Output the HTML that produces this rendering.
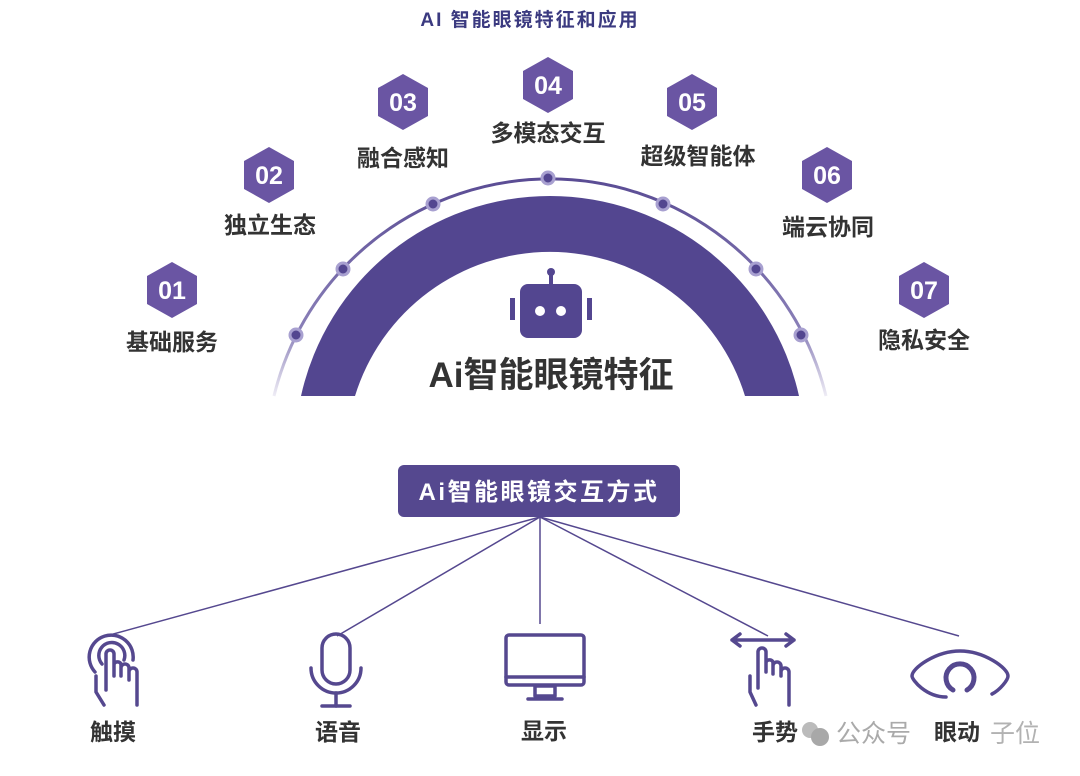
<!DOCTYPE html>
<html><head><meta charset="utf-8"><style>
html,body{margin:0;padding:0;background:#fff;}
svg{display:block;}
text{font-family:"Liberation Sans","Noto Sans CJK SC",sans-serif;}
</style></head><body>
<svg width="1080" height="776" viewBox="0 0 1080 776" xmlns="http://www.w3.org/2000/svg">
<defs>
<linearGradient id="g1" x1="0" y1="0" x2="0" y2="1">
<stop offset="0" stop-color="#5a4c94"/><stop offset="0.7" stop-color="#8a80b8"/><stop offset="1" stop-color="#eeecf5"/>
</linearGradient>
</defs>
<text x="530" y="26" text-anchor="middle" font-size="19" letter-spacing="2" font-weight="bold" fill="#3b3a80">AI 智能眼镜特征和应用</text>
<!-- thin arc -->
<path d="M274 396 A284 284 0 0 1 826 396" fill="none" stroke="url(#g1)" stroke-width="3"/>
<!-- thick band -->
<path d="M301 396 A255 255 0 0 1 799 396 L745 396 A204 204 0 0 0 355 396 Z" fill="#534690"/>
<g fill="#534690" stroke="#a8a0d0" stroke-width="3">
<circle cx="296" cy="335" r="6"/><circle cx="343" cy="269" r="6"/><circle cx="433" cy="204" r="6"/>
<circle cx="548" cy="178" r="6"/><circle cx="663" cy="204" r="6"/><circle cx="756" cy="269" r="6"/><circle cx="801" cy="335" r="6"/>
</g>
<!-- robot -->
<g fill="#534690">
<circle cx="551" cy="272" r="4"/><rect x="549" y="272" width="4" height="12"/>
<rect x="520" y="284" width="62" height="54" rx="8"/>
<rect x="510" y="298" width="5" height="22"/><rect x="587" y="298" width="5" height="22"/>
</g>
<circle cx="540" cy="311" r="5" fill="#fff"/><circle cx="561" cy="311" r="5" fill="#fff"/>
<text x="551" y="387" text-anchor="middle" font-size="35" font-weight="bold" fill="#333">Ai智能眼镜特征</text>
<!-- hexagons -->
<g fill="#6a55a3">
<polygon points="172,262 197,276 197,304 172,318 147,304 147,276"/>
<polygon points="269,147 294,161 294,189 269,203 244,189 244,161"/>
<polygon points="403,74 428,88 428,116 403,130 378,116 378,88"/>
<polygon points="548,57 573,71 573,99 548,113 523,99 523,71"/>
<polygon points="692,74 717,88 717,116 692,130 667,116 667,88"/>
<polygon points="827,147 852,161 852,189 827,203 802,189 802,161"/>
<polygon points="924,262 949,276 949,304 924,318 899,304 899,276"/>
</g>
<g fill="#fff" font-size="25" font-weight="bold" text-anchor="middle">
<text x="172" y="299">01</text><text x="269" y="184">02</text><text x="403" y="111">03</text>
<text x="548" y="94">04</text><text x="692" y="111">05</text><text x="827" y="184">06</text><text x="924" y="299">07</text>
</g>
<g fill="#333" font-size="23" font-weight="bold" text-anchor="middle">
<text x="172" y="350">基础服务</text><text x="270" y="233">独立生态</text><text x="403" y="166">融合感知</text>
<text x="548" y="141">多模态交互</text><text x="698" y="164">超级智能体</text><text x="828" y="235">端云协同</text><text x="924" y="348">隐私安全</text>
</g>
<!-- button -->
<rect x="398" y="465" width="282" height="52" rx="6" fill="#55488f"/>
<text x="539" y="500" text-anchor="middle" font-size="24" letter-spacing="2.5" font-weight="bold" fill="#fff">Ai智能眼镜交互方式</text>
<g stroke="#55488f" stroke-width="1.5">
<line x1="540" y1="517" x2="106" y2="636"/><line x1="540" y1="517" x2="337" y2="636"/>
<line x1="540" y1="517" x2="540" y2="624"/><line x1="540" y1="517" x2="768" y2="636"/><line x1="540" y1="517" x2="959" y2="636"/>
</g>
<!-- icons -->
<g fill="none" stroke="#55488f" stroke-width="3.5" stroke-linecap="round" stroke-linejoin="round">
<path d="M95 672 A22 22 0 1 1 133 660"/><path d="M102 664 A13 13 0 1 1 124 660"/>
<path d="M104 705 L96 692 L96 676 M106 690 L106 654 A4 4 0 0 1 114 654 L114 676 L114 664 A4 4 0 0 1 121 664 L121 676 L121 668 A4 4 0 0 1 129 668 L129 680 L129 672 A4 4 0 0 1 137 672 L137 705"/>
<rect x="322" y="634" width="28" height="50" rx="14"/>
<path d="M311 668 A25 25 0 0 0 361 668"/><line x1="336" y1="693" x2="336" y2="706"/><line x1="322" y1="706" x2="350" y2="706"/>
<rect x="506" y="635" width="78" height="50" rx="3"/>
<line x1="506" y1="677" x2="584" y2="677"/>
<rect x="535" y="686" width="20" height="10"/><line x1="528" y1="699" x2="562" y2="699"/>
<path d="M732 640 L794 640 M740 634 L732 640 L740 646 M786 634 L794 640 L786 646"/>
<path d="M756 705 L750 692 L750 676 M758 688 L758 652 A4 4 0 0 1 766 652 L766 672 L766 662 A4 4 0 0 1 773 662 L773 674 L773 666 A4 4 0 0 1 781 666 L781 676 L781 672 A4 4 0 0 1 789 672 L789 705"/>
<path d="M946 697 C926 697 912 680 912 676 C912 668 936 651 960 651 C984 651 1008 668 1008 676 C1008 680 1000 690 992 694"/>
<path d="M953 690 A14 14 0 1 1 967 690" stroke-width="5"/>
</g>
<g fill="#333" font-size="23" font-weight="bold" text-anchor="middle">
<text x="113" y="740">触摸</text><text x="338" y="740">语音</text><text x="544" y="739">显示</text><text x="775" y="740">手势</text><text x="957" y="740">眼动</text>
</g>
<circle cx="810" cy="730" r="8" fill="#bbb"/><circle cx="820" cy="737" r="9" fill="#a8a8a8"/>
<text x="836" y="742" font-size="25" fill="#aaa">公众号</text>
<text x="990" y="742" font-size="25" fill="#aaa" opacity="0.9">子位</text>
</svg>
</body></html>
